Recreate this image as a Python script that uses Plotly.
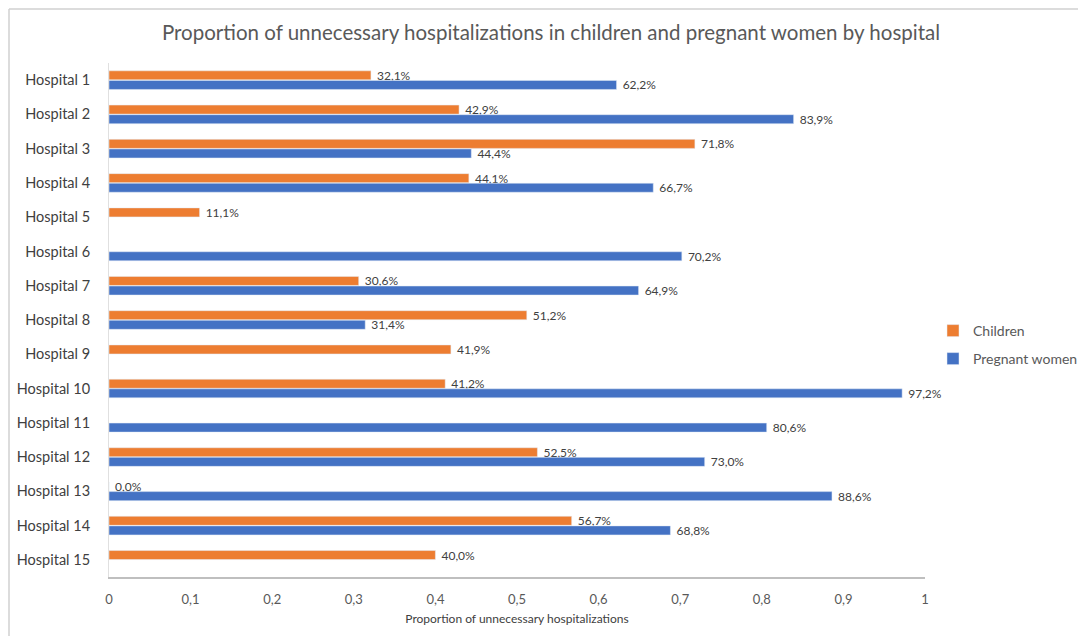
import plotly.graph_objects as go

hospitals = [f"Hospital {i}" for i in range(1, 16)]
children = [0.321, 0.429, 0.718, 0.441, 0.111, None, 0.306, 0.512, 0.419, 0.412, None, 0.525, 0.000, 0.567, 0.400]
pregnant = [0.622, 0.839, 0.444, 0.667, None, 0.702, 0.649, 0.314, None, 0.972, 0.806, 0.730, 0.886, 0.688, None]
x_ticks = [0, 0.1, 0.2, 0.3, 0.4, 0.5, 0.6, 0.7, 0.8, 0.9, 1]
x_ticktext = ["0", "0,1", "0,2", "0,3", "0,4", "0,5", "0,6", "0,7", "0,8", "0,9", "1"]

FONT = "Lato, 'Open Sans', sans-serif"
W, H = 1078, 636
L, R, T, B = 109, 925, 63, 577

def px_to_paper_x(px):
    return (px - L) / (R - L)

def px_to_paper_y(py):
    return (B - py) / (B - T)

label_tpl = "\u00a0%{x:.1%}"

fig = go.Figure()
fig.add_trace(go.Bar(
    y=hospitals, x=children, orientation="h", name="Children",
    marker=dict(color="#ED7D31"),
    texttemplate=label_tpl, textposition="outside", constraintext="none",
    textfont=dict(size=12, color="#404040", family=FONT),
    cliponaxis=False, legend="legend",
))
fig.add_trace(go.Bar(
    y=hospitals, x=pregnant, orientation="h", name="Pregnant women",
    marker=dict(color="#4472C4"),
    texttemplate=label_tpl, textposition="outside", constraintext="none",
    textfont=dict(size=12, color="#404040", family=FONT),
    cliponaxis=False, legend="legend2",
))

fig.update_layout(
    width=W, height=H,
    paper_bgcolor="white", plot_bgcolor="white",
    separators=",.",
    barmode="group", bargap=0.44, bargroupgap=0.06,
    margin=dict(l=L, r=W - R, t=T, b=H - B, autoexpand=False),
    font=dict(family=FONT, color="#595959"),
    title=dict(
        text="Proportion of unnecessary hospitalizations in children and pregnant women by hospital",
        x=551 / W, xanchor="center", y=1 - 33 / H, yanchor="middle",
        font=dict(size=20.5, color="#595959", family=FONT),
    ),
    xaxis=dict(
        range=[0, 1], tickvals=x_ticks, ticktext=x_ticktext,
        showgrid=False, zeroline=False, showline=True, linecolor="#bfbfbf", linewidth=1.5,
        ticks="", ticklabelstandoff=10,
        tickfont=dict(size=13, color="#595959", family=FONT),
        title=dict(text="Proportion of unnecessary hospitalizations", standoff=8,
                   font=dict(size=12, color="#404040", family=FONT)),
        fixedrange=True,
    ),
    yaxis=dict(
        autorange="reversed", showgrid=False, zeroline=False,
        showline=True, linecolor="#e0e0e0", linewidth=1,
        ticks="", ticklabelstandoff=15,
        tickfont=dict(size=14.5, color="#404040", family=FONT),
    ),
    legend=dict(x=px_to_paper_x(933), y=px_to_paper_y(331), xanchor="left", yanchor="middle",
                font=dict(size=14, color="#595959", family=FONT), bgcolor="rgba(0,0,0,0)",
                itemwidth=30),
    legend2=dict(x=px_to_paper_x(933), y=px_to_paper_y(359), xanchor="left", yanchor="middle",
                 font=dict(size=14, color="#595959", family=FONT), bgcolor="rgba(0,0,0,0)",
                 itemwidth=30),
    showlegend=True,
)

# chart frame (left and top edges visible)
fig.add_shape(type="line", xref="paper", yref="paper",
              x0=px_to_paper_x(9), x1=px_to_paper_x(9), y0=px_to_paper_y(9), y1=px_to_paper_y(640),
              line=dict(color="#d0d0d0", width=1.5))
fig.add_shape(type="line", xref="paper", yref="paper",
              x0=px_to_paper_x(9), x1=px_to_paper_x(1090), y0=px_to_paper_y(9), y1=px_to_paper_y(9),
              line=dict(color="#d0d0d0", width=1.5))

fig.write_html("out.html", config={"displayModeBar": False},
               post_script="document.body.style.margin='0';document.body.style.overflow='hidden';")
